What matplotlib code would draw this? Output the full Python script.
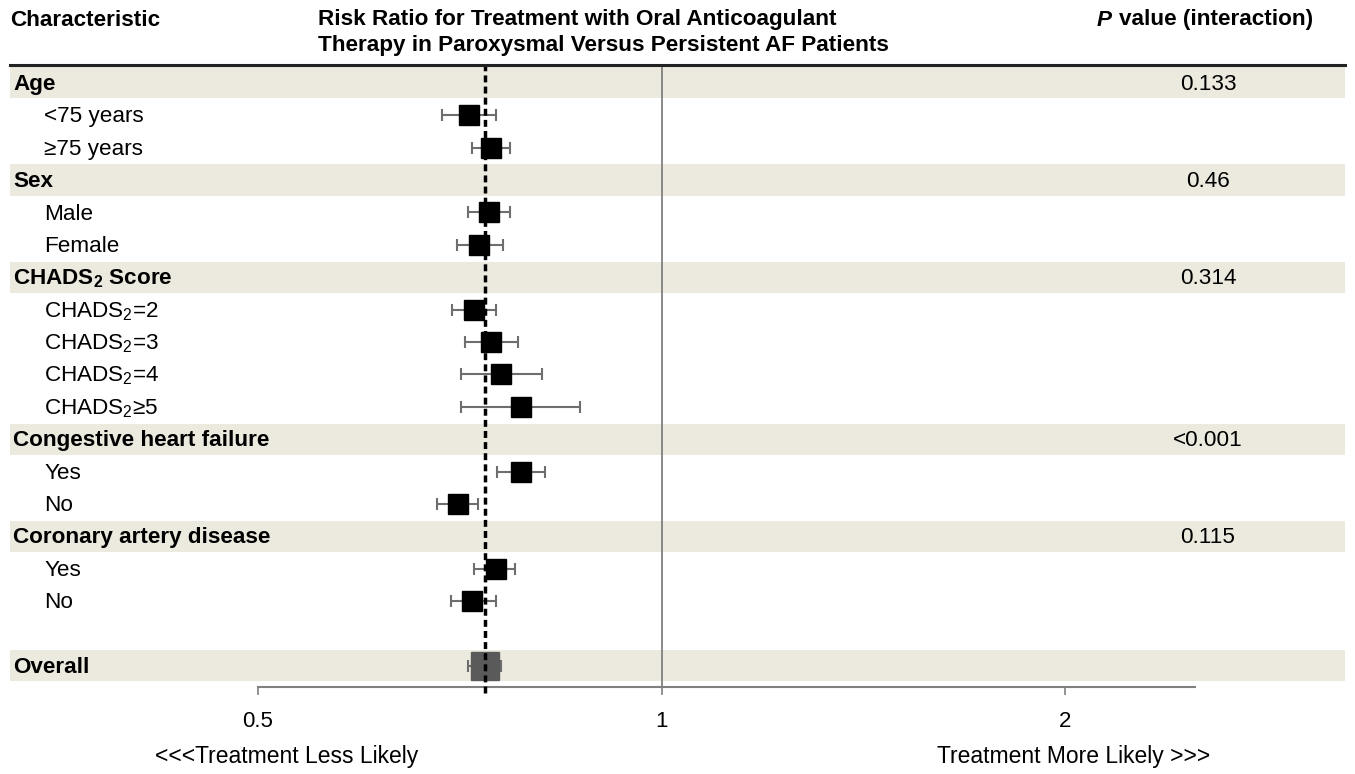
import numpy as np
import matplotlib
matplotlib.use("Agg")
import matplotlib.pyplot as plt
from matplotlib.patches import Rectangle
import matplotlib.transforms as mtransforms

plt.rcParams['font.family'] = ['Liberation Sans', 'DejaVu Sans']
plt.rcParams['mathtext.default'] = 'regular'

# ---- data ----
labels = ["Age", "<75 years", "\u226575 years",
          "Sex", "Male", "Female",
          "CHADS$_2$ Score", "CHADS$_2$=2", "CHADS$_2$=3", "CHADS$_2$=4", "CHADS$_2$\u22655",
          "Congestive heart failure", "Yes", "No",
          "Coronary artery disease", "Yes", "No",
          "", "Overall"]
is_header = [True, False, False, True, False, False, True, False, False, False, False,
             True, False, False, True, False, False, False, True]
rr = [None, 0.719, 0.746, None, 0.744, 0.731, None, 0.725, 0.746, 0.759, 0.785,
      None, 0.786, 0.705, None, 0.752, 0.722, None, 0.739]
lo = [None, 0.686, 0.722, None, 0.717, 0.704, None, 0.698, 0.714, 0.709, 0.709,
      None, 0.754, 0.680, None, 0.724, 0.696, None, 0.717]
hi = [None, 0.753, 0.771, None, 0.771, 0.761, None, 0.753, 0.782, 0.815, 0.870,
      None, 0.819, 0.730, None, 0.778, 0.752, None, 0.759]
pvals = {0: "0.133", 3: "0.46", 6: "0.314", 11: "<0.001", 14: "0.115"}
overall_rr = 0.739
xticks = [0.5, 1, 2]

W, H = 1355, 774
fig = plt.figure(figsize=(W / 100, H / 100), dpi=100)
ax = fig.add_axes([258 / W, 1 - 687 / H, (1195 - 258) / W, (687 - 65) / H])
ax.set_xscale("log")
ax.set_xlim(0.5, 2.5)
ax.set_ylim(18.65, -0.55)
ax.patch.set_alpha(0)

fs = 16.2
band = "#ECE9DF"
trans = mtransforms.blended_transform_factory(fig.transFigure, ax.transData)

for i, lab in enumerate(labels):
    if is_header[i]:
        ax.add_patch(Rectangle((10 / W, i - 0.48), (1345 - 10) / W, 0.96, transform=trans,
                               facecolor=band, edgecolor="none", clip_on=False, zorder=0))
        ax.text(13 / W, i + 0.05, lab, transform=trans, fontsize=fs, fontweight="bold",
                va="center", ha="left")
    else:
        ax.text(44 / W, i + 0.05, lab, transform=trans, fontsize=fs, va="center", ha="left")
    if i in pvals:
        ax.text(1208 / W, i + 0.05, pvals[i], transform=trans, fontsize=fs, va="center",
                ha="center")

# reference lines
ax.axvline(1, color="#808080", lw=1.3, zorder=1)
ax.axvline(overall_rr, ymin=-0.01, ymax=1, color="black", lw=2.5, ls=(0, (2, 1.2)),
           zorder=4, clip_on=False)

# estimates
for i in range(len(labels)):
    if rr[i] is None:
        continue
    overall = labels[i] == "Overall"
    ax.errorbar(rr[i], i, xerr=[[rr[i] - lo[i]], [hi[i] - rr[i]]], fmt="none",
                ecolor="#6e6e6e", elinewidth=1.5, capsize=4, capthick=1.5, zorder=2)
    ax.plot(rr[i], i, marker="s", ms=20 if overall else 14.4, ls="none",
            color="#5a5a5a" if overall else "black", zorder=3)

# axis styling
for s in ["top", "left", "right"]:
    ax.spines[s].set_visible(False)
ax.spines["bottom"].set_color("#808080")
ax.spines["bottom"].set_linewidth(1.5)
ax.set_yticks([])
ax.set_xticks(xticks)
ax.set_xticklabels(["0.5", "1", "2"])
ax.xaxis.set_minor_locator(matplotlib.ticker.NullLocator())
ax.tick_params(axis="x", direction="out", length=6, width=1.2, color="#808080",
               pad=11, labelsize=16)

# header
fig.add_artist(plt.Line2D([10 / W, 1345 / W], [1 - 65 / H] * 2, color="#222222", lw=2.2))
fig.text(10 / W, 1 - 20 / H, "Characteristic", fontsize=fs, fontweight="bold", va="center")
fig.text(318 / W, 1 - 20 / H, "Risk Ratio for Treatment with Oral Anticoagulant",
         fontsize=fs, fontweight="bold", va="center")
fig.text(318 / W, 1 - 46 / H, "Therapy in Paroxysmal Versus Persistent AF Patients",
         fontsize=fs, fontweight="bold", va="center")
fig.text(1097 / W, 1 - 20 / H, "P", fontsize=fs, fontweight="bold", fontstyle="italic",
         va="center")
fig.text(1119 / W, 1 - 20 / H, "value (interaction)", fontsize=fs, fontweight="bold",
         va="center")

# footer
fig.text(155 / W, 1 - 757 / H, "<<<Treatment Less Likely", fontsize=16.5, va="center")
fig.text(1210 / W, 1 - 757 / H, "Treatment More Likely >>>", fontsize=16.5,
         va="center", ha="right")

fig.savefig("out.png", dpi=100)
